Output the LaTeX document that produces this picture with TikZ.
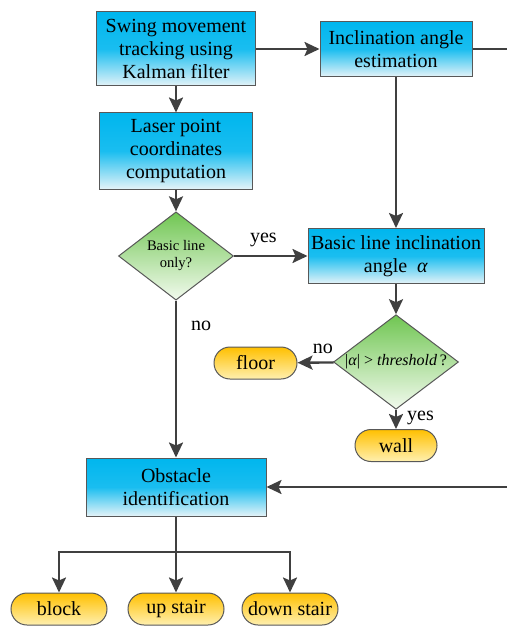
\documentclass[tikz,border=0pt]{standalone}
\usepackage{fontspec}
\setmainfont{Liberation Serif}
\newfontfamily\chartface{Liberation Serif}
\usetikzlibrary{shapes.geometric,arrows.meta}
\definecolor{procblue}{RGB}{0,182,238}
\definecolor{proclight}{RGB}{228,243,248}
\definecolor{decgreen}{RGB}{112,198,82}
\definecolor{declight}{RGB}{242,250,238}
\definecolor{termgold}{RGB}{255,192,0}
\definecolor{termlight}{RGB}{255,240,176}
\definecolor{edgegray}{RGB}{64,64,64}
\definecolor{rimgray}{RGB}{88,88,88}

\tikzset{
  procbox/.style={draw=rimgray, line width=0.5pt, top color=procblue, bottom color=proclight,
    middle color=procblue!90!white, inner sep=0pt, align=center,
    font=\chartface\fontsize{10}{11.5}\selectfont},
  decision/.style={diamond, draw=rimgray, line width=0.5pt, top color=decgreen, bottom color=declight,
    inner sep=0pt, align=center},
  terminal/.style={rectangle, rounded corners=8pt, draw=rimgray, line width=0.5pt, top color=termgold,
    bottom color=termlight, minimum width=48pt, minimum height=16pt, inner sep=0pt,
    font=\chartface\fontsize{10}{12}\selectfont},
  link/.style={draw=edgegray, line width=1.2pt},
  flow/.style={link, -{Stealth[length=7.5pt,width=7pt,inset=1.5pt]}},
  tag/.style={font=\chartface\fontsize{10}{12}\selectfont, inner sep=1pt}
}

\begin{document}
\begin{tikzpicture}[x=0.5pt, y=-0.5pt]
  \useasboundingbox (0,0) rectangle (507,626);

  % process boxes
  \node[procbox, minimum width=79.5pt, minimum height=37pt] (swing) at (176,49)
    {Swing movement\\tracking using\\Kalman filter};
  \node[procbox, minimum width=76pt, minimum height=27.5pt] (incl) at (396,49)
    {Inclination angle\\estimation};
  \node[procbox, minimum width=76.5pt, minimum height=38pt] (laser) at (176,151)
    {Laser point\\coordinates\\computation};
  \node[procbox, minimum width=88pt, minimum height=27.5pt] (basic) at (396,256)
    {Basic line inclination\\angle~~\textit{α}};
  \node[procbox, minimum width=90pt, minimum height=29pt] (obst) at (176,487)
    {Obstacle\\identification};

  % decisions
  \node[decision, minimum width=57.5pt, minimum height=33.5pt, font=\chartface\fontsize{7.3}{8.5}\selectfont]
    (only) at (176,256) {Basic line\\only?};
  \node[decision, minimum width=62.5pt, minimum height=37pt] (thresh) at (396,362)
    {\makebox[40pt]{\chartface\fontsize{8}{9.6}\selectfont |\textit{α}| > \textit{threshold}\,?}};

  % results
  \node[terminal, minimum width=41.5pt] (floor) at (255.5,363) {floor};
  \node[terminal, minimum width=41pt] (wall) at (396,445.5) {wall};
  \node[terminal] (block) at (59,609) {block};
  \node[terminal] (upst) at (176,609) {up stair};
  \node[terminal] (downst) at (290,609) {down stair};

  \coordinate (outA) at (507,49);
  \coordinate (inB) at (507,487);
  \coordinate (fork) at (176,552);

  % connectors
  \draw[flow] (swing) -- (incl);
  \draw[link] (incl.east) -- (outA);
  \draw[flow] (swing) -- (laser);
  \draw[flow] (laser) -- (only);
  \draw[flow] (incl) -- (basic);
  \draw[flow] (only) -- node[tag, pos=0.4, above=3pt] {yes} (basic);
  \draw[flow] (only) -- node[tag, pos=0.16, right=6pt] {no} (obst);
  \draw[flow] (basic) -- (thresh);
  \draw[flow] (thresh) -- node[tag, pos=0.3, above=3pt] {no} (floor);
  \draw[flow] (thresh) -- node[tag, pos=0.45, right=4pt] {yes} (wall);
  \draw[flow] (inB) -- (obst.east);
  \draw[link] (obst) -- (fork);
  \draw[flow] (fork) -| (block.north);
  \draw[flow] (fork) -- (upst);
  \draw[flow] (fork) -| (downst.north);
\end{tikzpicture}
\end{document}
